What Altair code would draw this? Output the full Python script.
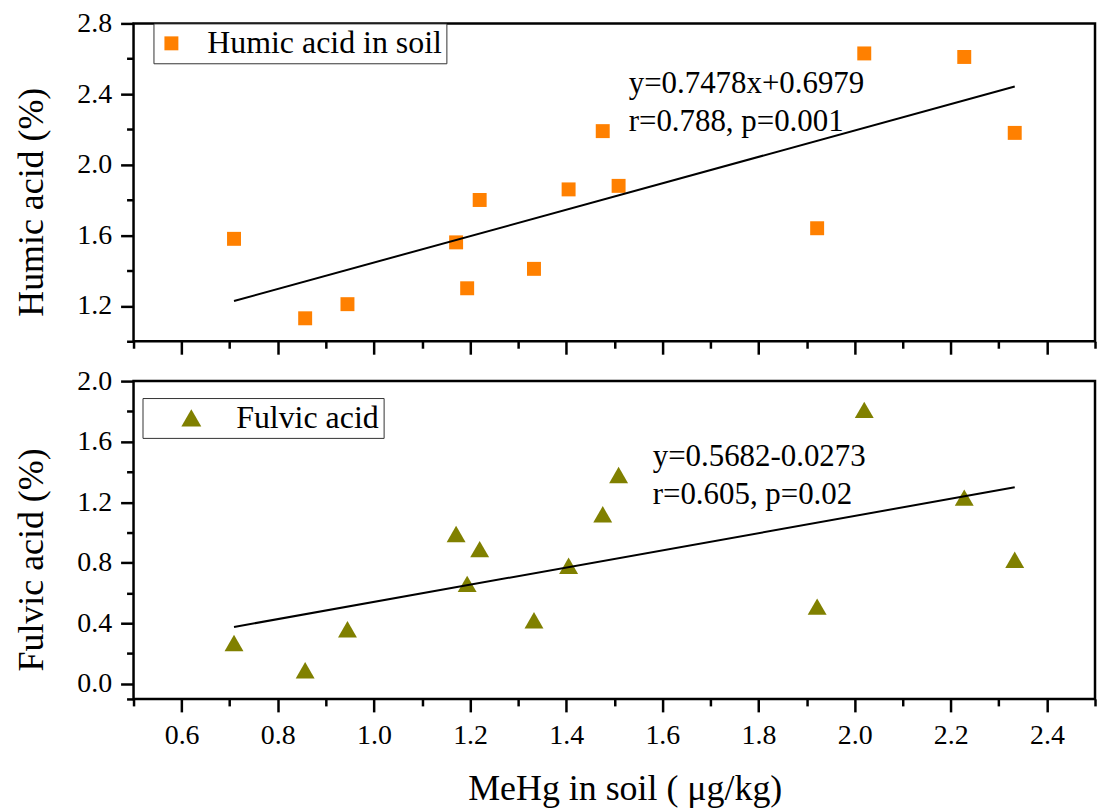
import altair as alt
import pandas as pd

# ---------------- data ----------------
mehg = [0.709, 0.857, 0.945, 1.171, 1.194, 1.220, 1.333, 1.405, 1.476, 1.509, 1.922, 2.020, 2.228, 2.333]
humic = [1.58, 1.13, 1.21, 1.56, 1.30, 1.80, 1.41, 1.86, 2.19, 1.88, 1.64, 2.63, 2.61, 2.18]
fulvic = [0.27, 0.09, 0.36, 0.99, 0.66, 0.89, 0.42, 0.78, 1.12, 1.38, 0.51, 1.81, 1.23, 0.82]

series_names = ["Humic acid in soil", "Fulvic acid"]
y_titles = ["Humic acid (%)", "Fulvic acid (%)"]
x_title = "MeHg in soil ( μg/kg)"

# printed regression equations (slope, intercept) and statistics
humic_fit = [0.7478, 0.6979]
fulvic_fit = [0.5682, -0.0273]
humic_stats = ["y=0.7478x+0.6979", "r=0.788, p=0.001"]
fulvic_stats = ["y=0.5682-0.0273", "r=0.605, p=0.02"]

# axis tick values
x_major_ticks = [0.6, 0.8, 1.0, 1.2, 1.4, 1.6, 1.8, 2.0, 2.2, 2.4]
x_minor_ticks = [0.5, 0.7, 0.9, 1.1, 1.3, 1.5, 1.7, 1.9, 2.1, 2.3, 2.5]
humic_major_ticks = [1.2, 1.6, 2.0, 2.4, 2.8]
humic_minor_ticks = [1.0, 1.4, 1.8, 2.2, 2.6]
fulvic_major_ticks = [0.0, 0.4, 0.8, 1.2, 1.6, 2.0]
fulvic_minor_ticks = [-0.1, 0.2, 0.6, 1.0, 1.4, 1.8]

# ---------------- styling ----------------
FONT = "Liberation Serif"
W, H = 965, 319
X_DOMAIN = [0.5, 2.5]


def make_panel(values, label, color, shape, size, legend_size, ydomain, ymaj, ymin,
               ytitle, fit, stats, stat_x, stat_y, bottom, legend_xy, sym_off, lab_off):
    pts = pd.DataFrame({"MeHg": mehg, "value": values, "series": [label] * len(mehg)})
    fit_df = pd.DataFrame({"MeHg": [min(mehg), max(mehg)]})

    xs = alt.Scale(domain=X_DOMAIN, nice=False, zero=False)
    ys = alt.Scale(domain=ydomain, nice=False, zero=False)

    common = dict(domain=False, grid=False, tickColor="black", tickWidth=2.5,
                  labelFont=FONT, labelColor="black", titleFont=FONT,
                  titleColor="black", titleFontWeight="normal")

    if bottom:
        x_major = alt.Axis(orient="bottom", values=x_major_ticks, tickSize=13,
                           labels=True, labelFontSize=28, labelPadding=10, format=".1f",
                           title=x_title, titleFontSize=36, titlePadding=22,
                           titleX=493, **common)
    else:
        x_major = alt.Axis(orient="bottom", values=x_major_ticks, tickSize=13,
                           labels=False, title=None, **common)
    x_minor = alt.Axis(orient="bottom", values=x_minor_ticks, tickSize=7,
                       labels=False, title=None, **common)
    y_major = alt.Axis(orient="left", values=ymaj, tickSize=13, labelFontSize=28,
                       labelPadding=9, format=".1f", title=ytitle, titleFontSize=36,
                       titleX=-83, titleY=179, **common)
    y_minor = alt.Axis(orient="left", values=ymin, tickSize=7, labels=False,
                       title=None, **common)

    legend = alt.Legend(title=None, orient="none", legendX=legend_xy[0], legendY=legend_xy[1],
                        symbolType=shape, symbolSize=legend_size, symbolStrokeWidth=0,
                        symbolOpacity=1, labelFont=FONT, labelFontSize=32,
                        labelColor="black", labelLimit=0, padding=4,
                        symbolOffset=sym_off, labelOffset=lab_off,
                        strokeColor="#333333", fillColor="white")

    points = alt.Chart(pts).mark_point(
        shape=shape, filled=True, size=size, opacity=1, strokeWidth=0
    ).encode(
        x=alt.X("MeHg:Q", scale=xs, axis=x_major),
        y=alt.Y("value:Q", scale=ys, axis=y_major),
        color=alt.Color("series:N", scale=alt.Scale(domain=[label], range=[color]),
                        legend=legend),
    )

    line = alt.Chart(fit_df).transform_calculate(
        fit=f"{fit[0]} * datum.MeHg + ({fit[1]})"
    ).mark_line(color="black", strokeWidth=2).encode(
        x=alt.X("MeHg:Q", scale=xs, axis=x_minor),
        y=alt.Y("fit:Q", scale=ys, axis=y_minor),
    )

    layers = [points, line]
    for i in range(2):
        tdf = pd.DataFrame({"x": [stat_x], "y": [stat_y[i]], "t": [stats[i]]})
        layers.append(
            alt.Chart(tdf).mark_text(align="left", baseline="alphabetic", font=FONT,
                                     fontSize=31, color="black").encode(
                x=alt.X("x:Q", scale=xs, axis=None),
                y=alt.Y("y:Q", scale=ys, axis=None),
                text="t:N",
            )
        )

    return alt.layer(*layers).resolve_axis(x="independent", y="independent").properties(
        width=W, height=H)


top = make_panel(humic, series_names[0], "#FF8000", "square", 196, 196,
                 [1.0, 2.8], humic_major_ticks, humic_minor_ticks, y_titles[0],
                 humic_fit, humic_stats, 1.53, [2.405, 2.19], False, (20, 0), -2, 20)

bottom = make_panel(fulvic, series_names[1], "#808000", "triangle-up", 361, 400,
                    [-0.1, 2.0], fulvic_major_ticks, fulvic_minor_ticks, y_titles[1],
                    fulvic_fit, fulvic_stats, 1.58, [1.441, 1.185], True, (9, 17), 29, 29)

chart = alt.vconcat(top, bottom, spacing=40, bounds="flush").resolve_scale(
    color="independent"
).configure_view(
    stroke="black", strokeWidth=2.5
).properties(
    padding={"left": 4, "top": -2, "right": 0, "bottom": 0}
)

chart.save("out.html", embed_options={"renderer": "svg", "actions": False})
